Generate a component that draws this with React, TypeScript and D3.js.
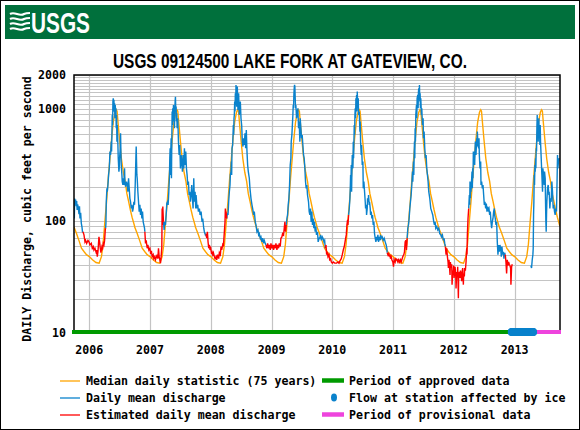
import React from 'react';
import * as d3 from 'd3';

// ---------------- data ----------------
const TITLE = 'USGS 09124500 LAKE FORK AT GATEVIEW, CO.';
const Y_AXIS_TITLE = 'DAILY Discharge, cubic feet per second';
const YEAR_TICKS = [2006, 2007, 2008, 2009, 2010, 2011, 2012, 2013];
const Y_TICKS = [10, 100, 1000, 2000];
const GRID_VALUES = [20, 30, 40, 50, 60, 70, 80, 90, 200, 300, 400, 500, 600, 700, 800, 900,
  1100, 1200, 1300, 1400, 1500, 1600, 1700, 1800, 1900];
const WATER_YEARS = [2006, 2007, 2008, 2009, 2010, 2011, 2012, 2013];

// median daily statistic: day of water year (from Oct 1), cfs
const MEDIAN_DAY = [0, 14, 31, 45, 61, 75, 92, 111, 132, 151, 165, 175, 186, 196, 206, 216, 226, 236, 247, 254, 259, 266, 275, 285, 297, 308, 318, 328, 339, 349, 364];
const MEDIAN_CFS = [88, 78, 66, 57, 53, 50, 48, 45, 42.5, 42, 48, 62, 100, 150, 240, 360, 540, 760, 930, 980, 950, 720, 510, 360, 270, 225, 175, 150, 125, 108, 90];

// daily mean discharge (days since 2005-10-01, cfs)
const dailyMeanRuns: [number, number][][] = [
  [[0,150],[2,105],[4,158],[7,140],[10,155],[13,135],[16,150],[19,125],[22,140],[26,130],[30,115],[33,135],[36,105],[40,118],[44,95],[48,88],[51,80],[54,80]],
  [[190,86],[192,95],[194,148],[198,195],[200,182],[204,209],[208,257],[212,294],[214,338],[216,415],[220,387],[224,509],[226,415],[230,880],[232,717],[234,1158],[236,1240],[238,1010],[240,1200],[242,943],[244,1120],[246,822],[248,1081],[250,943],[252,1010],[254,669],[256,880],[258,509],[260,717],[264,475],[266,362],[270,275],[272,294],[274,362],[278,444],[280,604],[282,415],[284,315],[288,257],[290,224],[294,209],[296,240],[300,209],[304,294],[306,224],[310,202],[316,224],[320,209],[324,182],[328,240],[332,195],[336,159],[340,148],[344,129],[348,139],[352,121],[356,129],[360,148],[364,139],[368,209],[372,362],[374,460],[376,338],[378,257],[380,240],[384,182],[388,148],[392,121],[396,139],[400,113],[404,129],[408,105],[412,121],[416,98],[420,92],[424,86],[426,80]],
  [[538,98],[542,83],[546,98],[550,92],[554,113],[558,143],[562,148],[566,139],[570,182],[574,257],[576,362],[578,444],[580,257],[582,415],[584,545],[586,240],[588,509],[590,943],[592,717],[594,1010],[596,768],[598,1081],[600,822],[602,1045],[604,669],[606,943],[608,1158],[610,1280],[612,943],[614,1045],[616,768],[618,910],[620,669],[624,822],[628,509],[632,387],[636,475],[640,294],[644,387],[648,338],[652,275],[656,387],[660,294],[664,444],[668,315],[672,415],[676,294],[680,257],[684,209],[688,224],[692,170],[696,182],[700,148],[704,170],[708,209],[712,159],[716,129],[720,240],[724,148],[728,182],[732,129],[734,170],[740,129],[744,139],[748,121],[754,129],[758,113],[764,121],[770,98],[774,105],[780,86],[784,80],[790,75],[794,77]],
  [[918,105],[922,117],[926,113],[930,148],[934,182],[938,209],[940,257],[944,275],[946,338],[948,257],[950,444],[954,475],[958,717],[960,584],[962,822],[964,880],[966,1158],[968,943],[970,1375],[972,1081],[974,1631],[976,1240],[978,1045],[980,1328],[982,1575],[984,1158],[986,975],[988,1240],[990,1375],[992,1045],[994,880],[996,1081],[1000,1158],[1004,822],[1008,717],[1012,509],[1016,460],[1020,545],[1024,475],[1028,604],[1032,444],[1036,647],[1040,415],[1044,315],[1048,275],[1054,240],[1058,195],[1064,159],[1070,139],[1074,129],[1080,113],[1084,121],[1090,98],[1094,92],[1100,80],[1106,83],[1110,75],[1114,77],[1120,70],[1124,72],[1130,65],[1134,70],[1140,63],[1144,67],[1150,63],[1154,61]],
  [[1276,92],[1280,105],[1284,113],[1288,139],[1292,159],[1296,209],[1300,315],[1304,362],[1306,509],[1310,584],[1314,768],[1316,880],[1318,1081],[1320,1010],[1322,1328],[1324,1523],[1326,1631],[1328,1575],[1330,1240],[1332,1010],[1334,1081],[1338,822],[1342,943],[1346,1010],[1350,669],[1354,768],[1358,509],[1360,822],[1364,669],[1368,545],[1372,584],[1376,475],[1380,387],[1384,362],[1388,294],[1392,224],[1396,195],[1400,209],[1404,170],[1410,148],[1414,121],[1418,113],[1422,129],[1426,98],[1430,121],[1434,92],[1438,105],[1442,86],[1446,98],[1450,80],[1454,89],[1458,75],[1464,80],[1468,65],[1474,70],[1477,70],[1483,75],[1487,67],[1493,72],[1497,70],[1503,65],[1507,67],[1511,57]],
  [[1651,113],[1655,129],[1659,159],[1661,195],[1663,257],[1665,209],[1667,315],[1669,182],[1671,275],[1673,387],[1677,294],[1679,509],[1681,362],[1685,717],[1687,584],[1689,880],[1691,1010],[1693,822],[1695,1240],[1697,1081],[1699,1328],[1701,943],[1703,1422],[1705,1158],[1707,1010],[1709,1240],[1711,880],[1715,943],[1719,625],[1721,768],[1723,509],[1727,387],[1729,475],[1733,315],[1737,338],[1739,195],[1743,224],[1747,182],[1751,148],[1753,129],[1757,139],[1759,113],[1763,129],[1765,159],[1769,148],[1771,170],[1775,139],[1777,148],[1781,129],[1783,113],[1787,121],[1791,105],[1795,113],[1799,92],[1803,98],[1807,77],[1811,70],[1815,65],[1819,72],[1823,67],[1827,75],[1831,65],[1835,72],[1839,67],[1843,75],[1847,70],[1853,72],[1859,67],[1865,70],[1871,65],[1877,61],[1881,57],[1883,52]],
  [[2003,70],[2007,86],[2011,92],[2015,105],[2019,129],[2023,148],[2027,170],[2031,209],[2035,275],[2037,224],[2041,338],[2043,257],[2047,509],[2049,362],[2051,669],[2053,509],[2055,880],[2059,1081],[2061,822],[2063,1240],[2067,1328],[2069,1010],[2071,1422],[2073,1523],[2075,1240],[2077,1631],[2079,1158],[2081,1375],[2083,1010],[2085,1240],[2089,880],[2091,1010],[2095,717],[2099,822],[2101,545],[2105,625],[2109,444],[2113,362],[2117,387],[2121,294],[2125,257],[2129,224],[2133,182],[2139,159],[2145,129],[2151,121],[2157,113],[2163,98],[2167,92],[2171,98],[2175,86],[2181,89],[2187,83],[2193,86],[2199,77],[2205,75],[2209,72],[2215,75],[2221,67],[2225,70],[2229,63],[2233,59]],
  [[2373,129],[2375,148],[2377,170],[2379,139],[2381,224],[2383,159],[2385,209],[2387,182],[2391,240],[2393,275],[2395,195],[2397,294],[2399,240],[2401,415],[2403,338],[2405,415],[2409,315],[2411,415],[2413,509],[2417,387],[2421,545],[2423,460],[2425,625],[2429,475],[2433,444],[2435,545],[2437,387],[2441,294],[2445,338],[2447,209],[2451,224],[2455,195],[2459,209],[2463,170],[2467,139],[2471,148],[2475,129],[2479,143],[2483,121],[2487,134],[2491,125],[2495,129],[2499,113],[2503,121],[2507,98],[2511,86],[2515,98],[2519,105],[2523,121],[2527,129],[2529,113],[2533,105],[2537,92],[2541,98],[2545,65],[2549,50],[2553,61],[2557,53],[2561,61],[2565,57],[2569,48],[2573,59],[2577,50],[2581,53],[2585,46],[2589,52],[2593,50]],
  [[2747,40],[2751,38],[2755,45],[2759,50],[2761,57],[2763,113],[2765,148],[2767,257],[2769,209],[2771,315],[2773,275],[2775,362],[2777,294],[2779,444],[2781,415],[2783,669],[2785,880],[2787,584],[2789,768],[2791,509],[2793,717],[2795,822],[2797,545],[2799,669],[2801,475],[2803,717],[2805,509],[2809,362],[2813,257],[2817,182],[2819,294],[2823,257],[2827,209],[2829,275],[2833,240],[2835,148],[2837,98],[2839,80],[2841,113],[2843,148],[2847,195],[2851,209],[2855,170],[2857,182],[2861,129],[2865,159],[2869,148],[2873,224],[2877,182],[2881,129],[2885,139],[2889,121],[2893,113],[2897,129],[2901,121],[2905,257],[2907,387],[2909,294],[2913,338],[2917,362]],
];

// estimated daily mean discharge (days since 2005-10-01, cfs)
const estimatedRuns: [number, number][][] = [
  [[54,80],[60,75],[66,65],[70,67],[76,63],[84,67],[90,65],[96,61],[104,63],[110,57],[116,59],[120,55],[126,57],[132,53],[136,55],[140,48],[144,53],[150,72],[154,65],[158,57],[162,52],[168,59],[172,57],[176,63],[180,61],[184,67],[188,83],[190,86]],
  [[426,80],[430,63],[434,67],[440,57],[444,61],[450,55],[456,57],[460,52],[466,53],[470,48],[476,50],[480,46],[486,48],[490,45],[496,48],[500,50],[504,46],[508,57],[512,48],[516,45],[520,42],[524,48],[528,59],[530,129],[532,92],[534,134],[536,113],[538,98]],
  [[794,77],[798,70],[802,80],[806,65],[810,57],[814,61],[818,55],[822,57],[826,52],[830,53],[834,50],[838,52],[844,48],[848,46],[854,48],[858,45],[864,50],[870,46],[874,52],[880,50],[884,59],[888,55],[894,61],[898,59],[904,80],[908,98],[910,129],[912,113],[914,121],[918,105]],
  [[1154,61],[1160,57],[1164,63],[1170,57],[1174,61],[1180,55],[1184,63],[1190,57],[1194,61],[1200,55],[1204,61],[1210,57],[1214,63],[1220,55],[1224,61],[1230,57],[1234,63],[1240,59],[1244,70],[1250,72],[1254,77],[1260,75],[1264,86],[1268,98],[1272,80],[1276,92]],
  [[1511,57],[1515,61],[1519,50],[1523,53],[1527,48],[1533,50],[1537,45],[1543,46],[1547,43],[1553,42],[1559,43],[1567,42],[1573,42],[1579,42],[1587,43],[1593,42],[1599,44],[1607,46],[1613,50],[1619,55],[1625,59],[1631,67],[1637,75],[1641,92],[1645,102],[1647,92],[1651,113]],
  [[1883,52],[1887,50],[1891,52],[1895,48],[1899,50],[1903,46],[1907,48],[1911,45],[1917,43],[1921,39],[1925,45],[1931,43],[1935,46],[1941,45],[1947,43],[1951,46],[1957,43],[1963,45],[1967,43],[1973,46],[1977,48],[1983,50],[1987,53],[1991,65],[1995,67],[1999,55],[2003,70]],
  [[2233,59],[2237,50],[2241,57],[2245,48],[2249,43],[2251,38],[2255,45],[2257,40],[2261,33],[2263,43],[2267,38],[2271,41],[2273,27],[2277,36],[2279,33],[2283,40],[2285,31],[2289,35],[2291,39],[2295,33],[2297,25],[2301,35],[2305,33],[2307,39],[2311,20.4],[2313,33],[2317,35],[2321,31],[2323,36],[2327,33],[2331,29],[2333,35],[2337,38],[2341,27],[2343,34],[2347,32],[2349,38],[2353,36],[2357,43],[2361,57],[2363,50],[2365,75],[2369,105],[2373,129]],
  [[2593,50],[2597,43],[2601,34],[2605,45],[2609,40],[2613,43],[2617,41],[2621,40],[2625,38],[2627,27],[2631,39],[2635,41]],
];

// qualification periods (days since 2005-10-01)
const APPROVED_PERIOD = [0, 2626];
const PROVISIONAL_PERIOD = [2626, 2922];
const ICE_PERIOD = [2626, 2768];

const LEGEND_LEFT = ['Median daily statistic (75 years)', 'Daily mean discharge', 'Estimated daily mean discharge'];
const LEGEND_RIGHT = ['Period of approved data', 'Flow at station affected by ice', 'Period of provisional data'];

// ---------------- drawing ----------------
const W = 580, H = 430;
const PL = 74, PR = 560, PT = 75, PB = 333;
const START = new Date(2005, 9, 1);
const END = new Date(2013, 9, 1);
const C_MEDIAN = '#ffa500';
const C_DAILY = '#0a82cc';
const C_EST = '#ff0000';
const C_APPROVED = '#009a00';
const C_PROV = '#ee44dd';
const C_GRID = '#c4c4c4';
const MONO = '"DejaVu Sans Mono", "Liberation Mono", monospace';

export default function App() {
  const x = d3.scaleTime().domain([START, END]).range([PL, PR]);
  const y = d3.scaleLog().domain([10, 2000]).range([PB, PT]);
  const dayX = (d: number) => x(d3.timeDay.offset(START, Math.floor(d)));
  const line = d3.line<[number, number]>().x(p => dayX(p[0])).y(p => y(p[1]));

  const medianPts: [number, number][] = [];
  WATER_YEARS.forEach(wy => {
    const s = new Date(wy - 1, 9, 1);
    MEDIAN_DAY.forEach((dd, i) => {
      medianPts.push([x(d3.timeDay.offset(s, dd)), y(MEDIAN_CFS[i])]);
    });
  });
  const medianPath = d3.line()(medianPts) || '';

  const iceDays = d3.range(ICE_PERIOD[0], ICE_PERIOD[1], 2);
  const hy = (v: number) => Math.round(y(v)) + 0.5;
  const vx = (yr: number) => Math.round(x(new Date(yr, 0, 1))) + 0.5;

  return (
    <svg width={W} height={H} style={{ position: 'absolute', left: 0, top: 0, background: '#fff' }}>
      <defs>
        <clipPath id="plotclip"><rect x={PL} y={PT} width={PR - PL} height={PB - PT + 6} /></clipPath>
      </defs>
      <rect x={0.5} y={0.5} width={W - 1} height={H - 1} fill="#fff" stroke="#000" strokeWidth={1} />
      {/* banner */}
      <rect x={5} y={5} width={570} height={34} fill="#00703c" />
      <g stroke="#fff" fill="none" strokeWidth={2.2}>
        <path d="M10,14 C15,11 19,17 24,14 C26,13 28,13 30,13" />
        <path d="M10,19 C15,16 19,22 24,19 C26,18 28,18 30,18" />
        <path d="M10,24 C15,21 19,27 24,24 C26,23 28,23 30,23" />
        <path d="M10,29 C15,26 19,32 24,29 C26,28 28,28 30,28" />
      </g>
      <text x={31} y={32.5} fill="#fff" fontFamily='"Liberation Sans", Arial, sans-serif' fontWeight="bold" fontSize={29}
        textLength={59} lengthAdjust="spacingAndGlyphs">USGS</text>
      {/* title */}
      <text x={290} y={67.5} textAnchor="middle" fontFamily='"Liberation Sans", Arial, sans-serif' fontWeight="bold"
        fontSize={20} textLength={354} lengthAdjust="spacingAndGlyphs" fill="#000">{TITLE}</text>

      {/* grid */}
      {GRID_VALUES.map(v => <line key={'h' + v} x1={PL} x2={PR} y1={hy(v)} y2={hy(v)} stroke={C_GRID} strokeWidth={1.2} />)}
      {Y_TICKS.map(v => <line key={'t' + v} x1={PL} x2={PR} y1={hy(v)} y2={hy(v)} stroke={C_GRID} strokeWidth={1.2} />)}
      {YEAR_TICKS.map(yr => <line key={'v' + yr} x1={vx(yr)} x2={vx(yr)} y1={PT} y2={PB} stroke={C_GRID} strokeWidth={1.2} />)}

      {/* series */}
      <g clipPath="url(#plotclip)" fill="none" strokeWidth={1.4} strokeLinejoin="miter">
        <path d={medianPath} stroke={C_MEDIAN} />
        {dailyMeanRuns.map((r, i) => <path key={'b' + i} d={line(r) || ''} stroke={C_DAILY} />)}
        {estimatedRuns.map((r, i) => <path key={'r' + i} d={line(r) || ''} stroke={C_EST} />)}
      </g>

      {/* frame */}
      <rect x={PL} y={PT} width={PR - PL} height={PB - PT} fill="none" stroke="#000" strokeWidth={1.5} />

      {/* qualification bars */}
      <line x1={dayX(APPROVED_PERIOD[0]) - 2} x2={dayX(APPROVED_PERIOD[1])} y1={332} y2={332} stroke={C_APPROVED} strokeWidth={4} />
      <line x1={dayX(PROVISIONAL_PERIOD[0])} x2={dayX(PROVISIONAL_PERIOD[1]) + 1} y1={332} y2={332} stroke={C_PROV} strokeWidth={4} />
      {iceDays.map(d => <ellipse key={'i' + d} cx={dayX(d)} cy={332} rx={3} ry={3.8} fill={C_DAILY} />)}

      {/* axis labels */}
      <g fontFamily={MONO} fontWeight="bold" fontSize={11.6} fill="#000">
        {Y_TICKS.map(v => <text key={'yl' + v} x={66} y={y(v) + 4} textAnchor="end">{v}</text>)}
        {YEAR_TICKS.map(yr => <text key={'xl' + yr} x={x(new Date(yr, 0, 1))} y={354} textAnchor="middle">{yr}</text>)}
        <text transform={`translate(31,${(PT + PB) / 2 + 5}) rotate(-90)`} textAnchor="middle">{Y_AXIS_TITLE}</text>
      </g>

      {/* legend */}
      <g fontFamily={MONO} fontWeight="bold" fontSize={11.6} fill="#000">
        {LEGEND_LEFT.map((t, i) => (
          <g key={'ll' + i}>
            <line x1={60} x2={80} y1={381 + i * 17} y2={381 + i * 17} stroke={[C_MEDIAN, C_DAILY, C_EST][i]} strokeWidth={1.3} />
            <text x={86} y={385 + i * 17}>{t}</text>
          </g>
        ))}
        <line x1={322} x2={344} y1={380.5} y2={380.5} stroke={C_APPROVED} strokeWidth={4.5} />
        <ellipse cx={334} cy={397.5} rx={3} ry={4} fill={C_DAILY} />
        <line x1={322} x2={344} y1={414.5} y2={414.5} stroke={C_PROV} strokeWidth={4.5} />
        {LEGEND_RIGHT.map((t, i) => <text key={'lr' + i} x={349} y={385 + i * 17}>{t}</text>)}
      </g>
    </svg>
  );
}
